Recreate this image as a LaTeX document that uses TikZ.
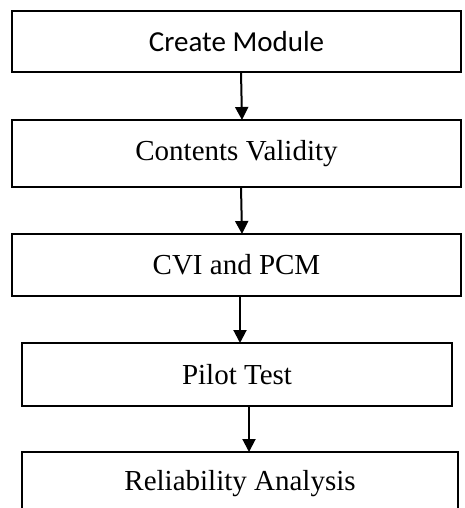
\documentclass[tikz,border=0pt]{standalone}
\usepackage{fontspec}
\setmainfont{Liberation Serif}
\newfontfamily\carlitofont{Carlito}
\usetikzlibrary{arrows.meta}
\begin{document}
\begin{tikzpicture}[x=1pt,y=-1pt,
  stepbox/.style={draw=black, line width=2.4pt, inner sep=0pt, outer sep=0pt,
    font=\fontsize{29}{34}\selectfont},
  flow/.style={draw=black, line width=2pt, -{Triangle[width=13pt,length=13pt]}}]
\useasboundingbox[fill=white] (0,0) rectangle (464,508);
\node[stepbox, minimum width=449pt, minimum height=61pt, font=\carlitofont\fontsize{29}{34}\selectfont] (b1) at (236.5,41.5) {Create Module};
\node[stepbox, minimum width=449pt, minimum height=67pt] (b2) at (236.5,153.5) {Contents Validity};
\node[stepbox, minimum width=449pt, minimum height=62pt] (b3) at (236.5,265) {CVI and PCM};
\node[stepbox, minimum width=430pt, minimum height=63pt] (b4) at (237,374.5) {Pilot Test};
\node[stepbox, minimum width=436pt, minimum height=63pt] (b5) at (240,483.5) {Reliability Analysis};
\draw[flow] ([xshift=4.5pt]b1.south) -- ([xshift=5.5pt]b2.north);
\draw[flow] ([xshift=4.5pt]b2.south) -- ([xshift=5.5pt]b3.north);
\draw[flow] ([xshift=3.5pt]b3.south) -- ([xshift=3.5pt]b3.south |- b4.north);
\draw[flow] ([xshift=12pt]b4.south) -- ([xshift=12pt]b4.south |- b5.north);
\end{tikzpicture}
\end{document}
